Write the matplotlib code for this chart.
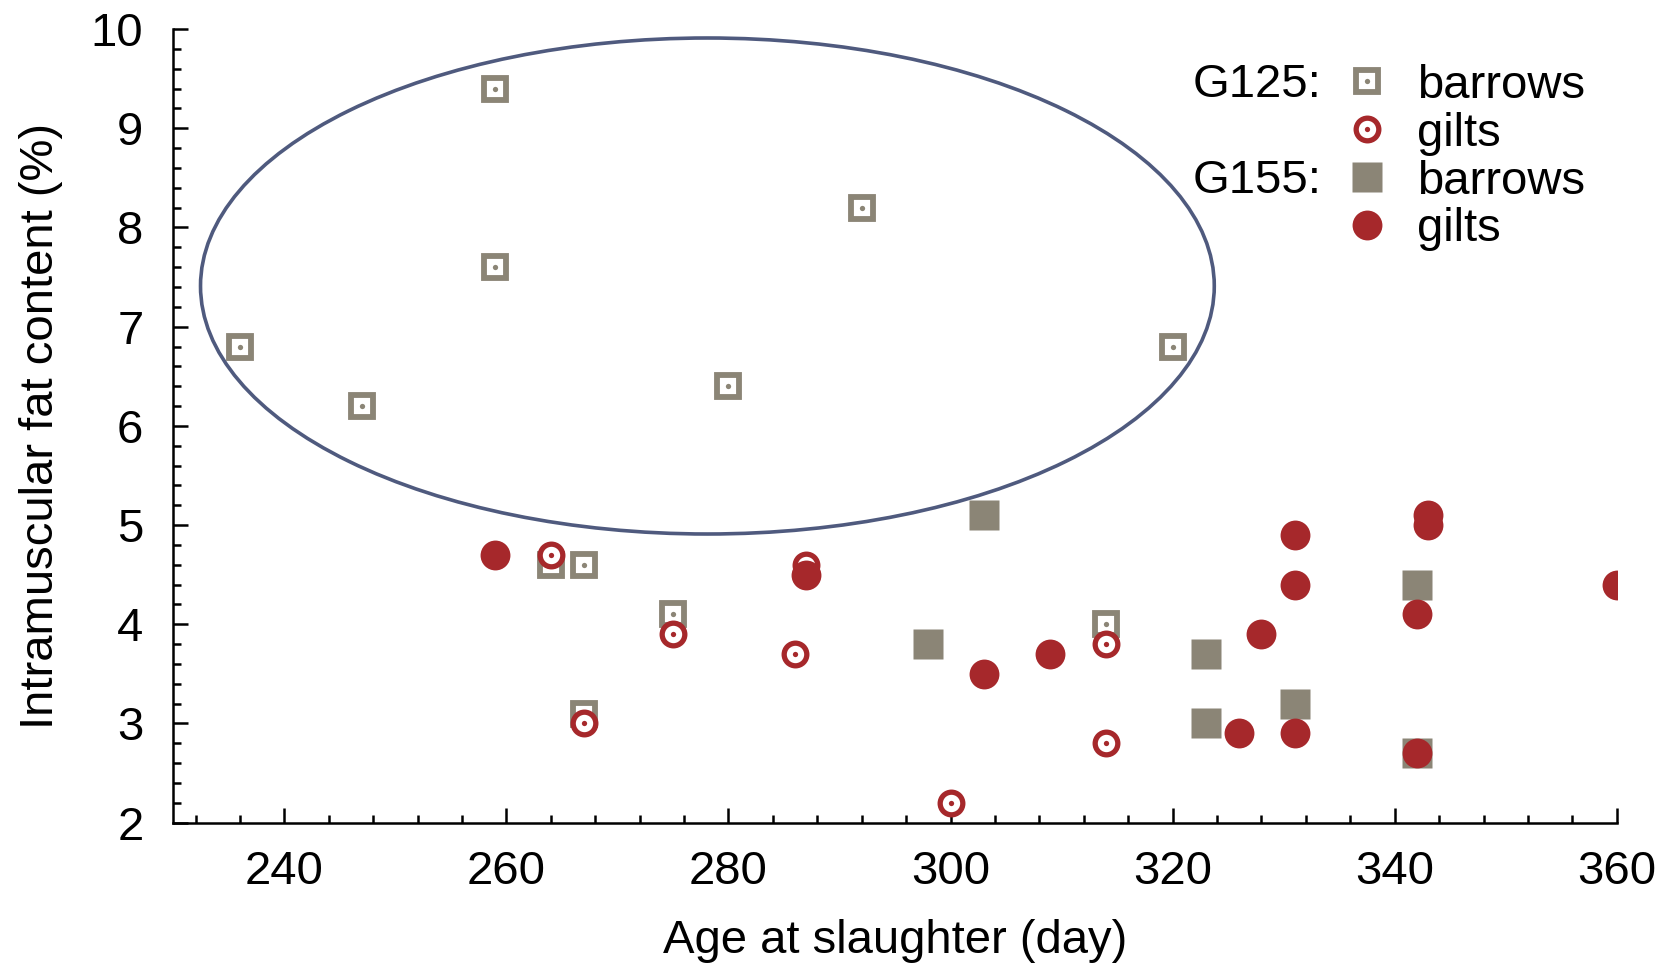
import matplotlib.pyplot as plt
from matplotlib.patches import Ellipse
from matplotlib.ticker import MultipleLocator
from matplotlib.legend_handler import HandlerTuple

plt.rcParams['font.family'] = ['Liberation Sans', 'DejaVu Sans']

# G125 barrows (open square with dot)
g125_barrows_x = [236, 247, 259, 259, 280, 292, 320, 264, 267, 275, 267, 314]
g125_barrows_y = [6.8, 6.2, 9.4, 7.6, 6.4, 8.2, 6.8, 4.6, 4.6, 4.1, 3.1, 4.0]

# G125 gilts (open circle with dot)
g125_gilts_x = [264, 275, 267, 287, 286, 300, 314, 314]
g125_gilts_y = [4.7, 3.9, 3.0, 4.6, 3.7, 2.2, 3.8, 2.8]

# G155 barrows (filled square)
g155_barrows_x = [303, 298, 323, 323, 331, 342, 342]
g155_barrows_y = [5.1, 3.8, 3.7, 3.0, 3.2, 4.4, 2.7]

# G155 gilts (filled circle)
g155_gilts_x = [259, 287, 303, 309, 326, 328, 331, 331, 331, 342, 342, 343, 343, 360]
g155_gilts_y = [4.7, 4.5, 3.5, 3.7, 2.9, 3.9, 4.9, 4.4, 2.9, 4.1, 2.7, 5.1, 5.0, 4.4]

# ellipse around the high G125 barrows
ell_center = (278.1, 7.41)
ell_width = 91.3
ell_height = 5.0

gray = '#8b8576'
red = '#a6282b'
navy = '#4f5a7e'

fig = plt.figure(figsize=(16.81, 9.69), dpi=100)
ax = fig.add_axes([0.1031, 0.151, 0.8587, 0.819])

ax.add_patch(Ellipse(ell_center, ell_width, ell_height, fill=False,
                     edgecolor=navy, linewidth=2.6, zorder=1))

h1a, = ax.plot(g125_barrows_x, g125_barrows_y, ls='none', marker='s', ms=16.3,
               mfc='white', mec=gray, mew=4.2, zorder=2)
h1b, = ax.plot(g125_barrows_x, g125_barrows_y, ls='none', marker='o', ms=3.8,
               mfc=gray, mec='none', zorder=2)
h2a, = ax.plot(g125_gilts_x, g125_gilts_y, ls='none', marker='o', ms=16.3,
               mfc='white', mec=red, mew=3.8, zorder=3)
h2b, = ax.plot(g125_gilts_x, g125_gilts_y, ls='none', marker='o', ms=3.8,
               mfc=red, mec='none', zorder=3)
h3, = ax.plot(g155_barrows_x, g155_barrows_y, ls='none', marker='s', ms=21.5,
              mfc=gray, mec='none', zorder=4)
h4, = ax.plot(g155_gilts_x, g155_gilts_y, ls='none', marker='o', ms=21.5,
              mfc=red, mec='none', zorder=5)

ax.set_xlim(230, 360)
ax.set_ylim(2, 10)
ax.xaxis.set_major_locator(MultipleLocator(20))
ax.xaxis.set_minor_locator(MultipleLocator(4))
ax.yaxis.set_major_locator(MultipleLocator(1))
ax.yaxis.set_minor_locator(MultipleLocator(0.2))

for s in ['top', 'right']:
    ax.spines[s].set_visible(False)
for s in ['left', 'bottom']:
    ax.spines[s].set_linewidth(1.8)

ax.tick_params(which='major', direction='in', length=10.5, width=1.8,
               labelsize=34)
ax.tick_params(which='minor', direction='in', length=5.5, width=1.8)
ax.tick_params(axis='x', which='major', pad=20)
ax.tick_params(axis='y', which='major', pad=21.5)

ax.set_xlabel('Age at slaughter (day)', fontsize=34, labelpad=18)
ax.set_ylabel('Intramuscular fat content (%)', fontsize=34, labelpad=20)

leg = ax.legend([(h1a, h1b), (h2a, h2b), h3, h4],
                ['barrows', 'gilts', 'barrows', 'gilts'],
                handler_map={tuple: HandlerTuple(ndivide=1)},
                loc='center left', bbox_to_anchor=(0.8105, 0.838),
                frameon=False, fontsize=34, labelspacing=0.08,
                handlelength=1.0, handletextpad=0.57, borderpad=0,
                borderaxespad=0)

ax.text(0.7956, 0.930, 'G125:', transform=ax.transAxes, fontsize=34,
        ha='right', va='center')
ax.text(0.7956, 0.8084, 'G155:', transform=ax.transAxes, fontsize=34,
        ha='right', va='center')

fig.savefig('out.png', dpi=100)
